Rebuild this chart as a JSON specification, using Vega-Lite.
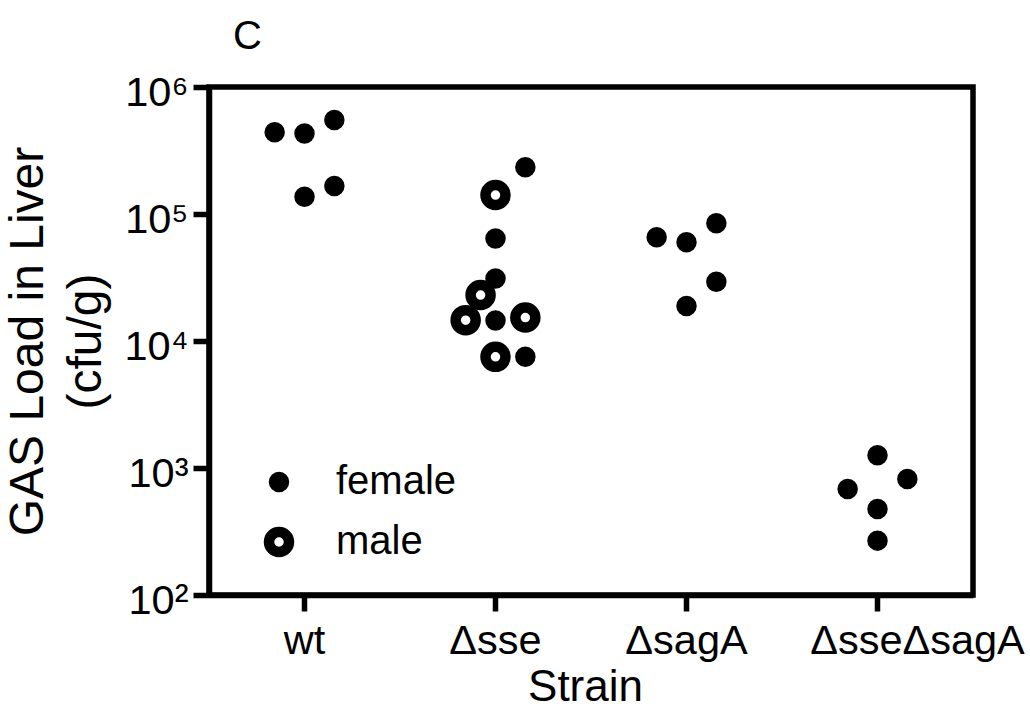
{
  "$schema": "https://vega.github.io/schema/vega-lite/v6.json",
  "width": 764,
  "height": 508,
  "autosize": {"type": "none"},
  "padding": {"left": 209, "top": 87, "right": 57, "bottom": 126},
  "background": "white",
  "title": {"text": "C", "anchor": "start", "frame": "group", "dx": 24, "fontSize": 40, "font": "Liberation Sans", "fontWeight": "normal", "color": "black", "baseline": "alphabetic", "offset": -17},
  "config": {
    "font": "Liberation Sans",
    "view": {"stroke": "black", "strokeWidth": 5.5},
    "axis": {
      "domainColor": "black", "domainWidth": 5.5, "tickColor": "black", "tickWidth": 5.5, "tickSize": 16,
      "labelFont": "Liberation Sans", "labelFontSize": 41.5, "labelColor": "black", "labelLimit": 0,
      "titleFont": "Liberation Sans", "titleFontWeight": "normal", "titleColor": "black", "grid": false
    },
    "legend": {
      "orient": "none", "legendX": 50, "legendY": 375, "title": null,
      "symbolType": "circle", "symbolStrokeColor": "black", "symbolStrokeWidth": 10.5,
      "labelFontSize": 40, "labelFont": "Liberation Sans", "labelColor": "black", "labelOffset": 37, "rowPadding": 3, "symbolOpacity": 1
    }
  },
  "data": {
    "values": [
      {"strain": "wt", "cfu": 440000, "jitter": -1, "sex": "female"},
      {"strain": "wt", "cfu": 430000, "jitter": 0, "sex": "female"},
      {"strain": "wt", "cfu": 550000, "jitter": 1, "sex": "female"},
      {"strain": "wt", "cfu": 137000, "jitter": 0, "sex": "female"},
      {"strain": "wt", "cfu": 166000, "jitter": 1, "sex": "female"},
      {"strain": "Δsse", "cfu": 233000, "jitter": 1, "sex": "female"},
      {"strain": "Δsse", "cfu": 64000, "jitter": 0, "sex": "female"},
      {"strain": "Δsse", "cfu": 31000, "jitter": 0, "sex": "female"},
      {"strain": "Δsse", "cfu": 14500, "jitter": 0, "sex": "female"},
      {"strain": "Δsse", "cfu": 7500, "jitter": 1, "sex": "female"},
      {"strain": "Δsse", "cfu": 141000, "jitter": 0, "sex": "male"},
      {"strain": "Δsse", "cfu": 23000, "jitter": -0.5, "sex": "male"},
      {"strain": "Δsse", "cfu": 14600, "jitter": -1, "sex": "male"},
      {"strain": "Δsse", "cfu": 15300, "jitter": 1, "sex": "male"},
      {"strain": "Δsse", "cfu": 7500, "jitter": 0, "sex": "male"},
      {"strain": "ΔsagA", "cfu": 65600, "jitter": -1, "sex": "female"},
      {"strain": "ΔsagA", "cfu": 59800, "jitter": 0, "sex": "female"},
      {"strain": "ΔsagA", "cfu": 84500, "jitter": 1, "sex": "female"},
      {"strain": "ΔsagA", "cfu": 29300, "jitter": 1, "sex": "female"},
      {"strain": "ΔsagA", "cfu": 18900, "jitter": 0, "sex": "female"},
      {"strain": "ΔsseΔsagA", "cfu": 1260, "jitter": 0, "sex": "female"},
      {"strain": "ΔsseΔsagA", "cfu": 819, "jitter": 1, "sex": "female"},
      {"strain": "ΔsseΔsagA", "cfu": 684, "jitter": -1, "sex": "female"},
      {"strain": "ΔsseΔsagA", "cfu": 475, "jitter": 0, "sex": "female"},
      {"strain": "ΔsseΔsagA", "cfu": 268, "jitter": 0, "sex": "female"}
    ]
  },
  "mark": {"type": "point", "shape": "circle", "stroke": "black", "strokeWidth": 10.5, "opacity": 1},
  "encoding": {
    "x": {
      "field": "strain", "type": "nominal",
      "scale": {"domain": ["wt", "Δsse", "ΔsagA", "ΔsseΔsagA"], "paddingInner": 0, "paddingOuter": 0},
      "axis": {"labelAngle": 0, "labelBaseline": "alphabetic", "labelPadding": 42,
        "labelOffset": {"condition": {"test": "datum.value === 'ΔsseΔsagA'", "value": 40}, "value": 0},
        "title": "Strain", "titleFontSize": 44, "titleBaseline": "alphabetic", "titleX": 376, "titleY": 105, "titleAnchor": "middle", "titleAlign": "center"}
    },
    "xOffset": {"field": "jitter", "type": "quantitative", "scale": {"domain": [-3.2, 3.2]}},
    "y": {
      "field": "cfu", "type": "quantitative",
      "scale": {"type": "log", "domain": [100, 1000000], "nice": false},
      "axis": {
        "values": [100, 1000, 10000, 100000, 1000000],
        "labelExpr": "'10' + ['⁰','¹','²','³','⁴','⁵','⁶'][round(log(datum.value)/LN10)]",
        "labelAlign": "right", "labelBaseline": "alphabetic", "labelOffset": 18, "labelPadding": 5,
        "title": ["GAS Load in Liver", "(cfu/g)"], "titleFontSize": 48, "titleLineHeight": 58,
        "titleBaseline": "alphabetic", "titleAngle": -90, "titleX": -167, "titleY": 254, "titleAlign": "center", "titleAnchor": "middle"
      }
    },
    "fill": {
      "field": "sex", "type": "nominal",
      "scale": {"domain": ["female", "male"], "range": ["black", "white"]},
      "legend": {"encode": {"symbols": {"update": {"stroke": {"value": "black"}, "strokeWidth": {"value": 10.5}}}}}
    },
    "size": {
      "field": "sex", "type": "nominal",
      "scale": {"domain": ["female", "male"], "range": [100, 400]},
      "legend": {"encode": {"symbols": {"update": {"stroke": {"value": "black"}, "strokeWidth": {"value": 10.5}}}}}
    }
  }
}
